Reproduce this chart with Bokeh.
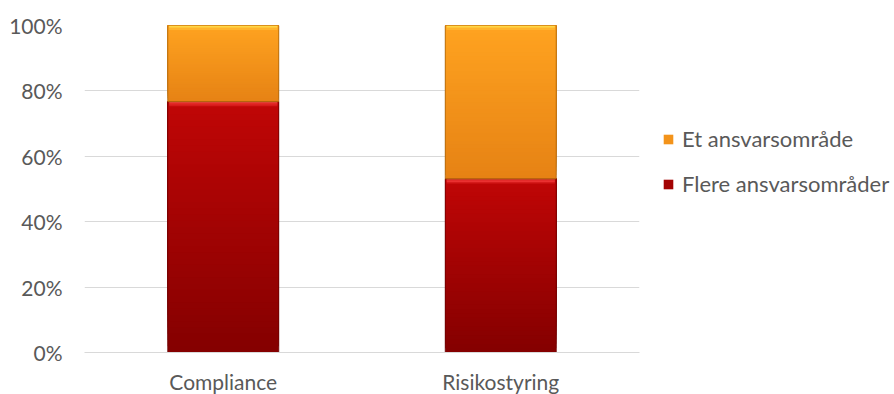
from bokeh.plotting import figure
from bokeh.models import ColumnDataSource, FactorRange, Legend, LegendItem, FixedTicker, PrintfTickFormatter
from bokeh.embed import file_html
from bokeh.resources import INLINE

# Share of respondents (percent) per role
categories = ["Compliance", "Risikostyring"]
flere_ansvarsomrader = [76.7, 53.1]
et_ansvarsomrade = [23.3, 46.9]
series_names = ["Flere ansvarsområder", "Et ansvarsområde"]
y_ticks = [0, 20, 40, 60, 80, 100]

FONT = "Lato"
TEXT_COLOR = "#595959"
BANDS = 40          # number of slices used to fake a vertical gradient
BEVEL = 1.4         # height (percentage points) of the lighter top edge
BAR_WIDTH = 0.40

# (bottom colour, top colour, top edge highlight, outline)
styles = {
    "Flere ansvarsområder": ((132, 0, 0), (192, 6, 6), (255, 70, 70), "#6a0000"),
    "Et ansvarsområde": ((230, 130, 20), (255, 163, 32), (255, 214, 70), "#a8640e"),
}


def mix(c0, c1, t):
    return "#%02x%02x%02x" % tuple(int(round(a + (b - a) * t)) for a, b in zip(c0, c1))


p = figure(
    x_range=FactorRange(*categories, range_padding=0),
    y_range=(0, 100),
    frame_width=555, frame_height=327,
    min_border_left=84, min_border_right=0, min_border_top=25, min_border_bottom=0,
    output_backend="svg", toolbar_location=None,
    background_fill_color="white", border_fill_color="white",
)
p.outline_line_color = None

legend_items = []
bases = [0.0] * len(categories)
for name, values in zip(series_names, [flere_ansvarsomrader, et_ansvarsomrade]):
    c_bot, c_top, c_hi, c_line = styles[name]
    xs, bottoms, tops, colors = [], [], [], []
    hx, hb, ht, hc = [], [], [], []
    for i, (cat, v) in enumerate(zip(categories, values)):
        b = bases[i]
        # each slice runs up to the segment top; later slices paint over the
        # upper part, so no seams appear between them
        for k in range(BANDS):
            xs.append(cat)
            bottoms.append(b + v * k / BANDS)
            tops.append(b + v)
            colors.append(mix(c_bot, c_top, (k + 0.5) / BANDS))
        # bevelled top edge: bright line fading into the segment colour
        for k in range(3):
            hx.append(cat)
            hb.append(b + v - BEVEL * (k + 1) / 3)
            ht.append(b + v - BEVEL * k / 3)
            hc.append(mix(c_top, c_hi, 1 - k / 3))
        bases[i] = b + v

    src = ColumnDataSource(dict(x=xs, bottom=bottoms, top=tops, color=colors))
    r = p.vbar(x="x", bottom="bottom", top="top", width=BAR_WIDTH, source=src,
               fill_color="color", line_color=None)
    hsrc = ColumnDataSource(dict(x=hx, bottom=hb, top=ht, color=hc))
    p.vbar(x="x", bottom="bottom", top="top", width=BAR_WIDTH - 0.01, source=hsrc,
           fill_color="color", line_color=None)

    # outline of each full segment
    seg_bottom = [bases[i] - values[i] for i in range(len(categories))]
    seg_top = [bases[i] for i in range(len(categories))]
    p.vbar(x=categories, bottom=seg_bottom, top=seg_top, width=BAR_WIDTH,
           fill_color=None, line_color=c_line, line_width=1, line_alpha=0.8)

    legend_items.append(LegendItem(label=name, renderers=[r], index=BANDS // 2))

# axes and grid
p.yaxis.ticker = FixedTicker(ticks=y_ticks)
p.yaxis.formatter = PrintfTickFormatter(format="%d%%")
p.yaxis.axis_line_color = None
p.yaxis.major_tick_line_color = None
p.yaxis.minor_tick_line_color = None
p.yaxis.major_label_standoff = 16

p.xaxis.axis_line_color = "#d9d9d9"
p.xaxis.major_tick_line_color = None
p.xaxis.minor_tick_line_color = None
p.xaxis.major_label_standoff = 10

for ax in (p.xaxis, p.yaxis):
    ax.major_label_text_font = FONT
    ax.major_label_text_font_size = "21px"
    ax.major_label_text_color = TEXT_COLOR

p.xgrid.grid_line_color = None
p.ygrid.grid_line_color = "#d9d9d9"
p.ygrid.grid_line_width = 1

legend = Legend(
    items=list(reversed(legend_items)),
    location=(23, 155),
    label_text_font=FONT, label_text_font_size="22px", label_text_color=TEXT_COLOR,
    glyph_width=12, glyph_height=12, label_standoff=8, spacing=18,
    border_line_color=None, background_fill_alpha=0,
    margin=0, padding=0,
)
p.add_layout(legend, "right")

open("out.html", "w").write(file_html(p, INLINE))
